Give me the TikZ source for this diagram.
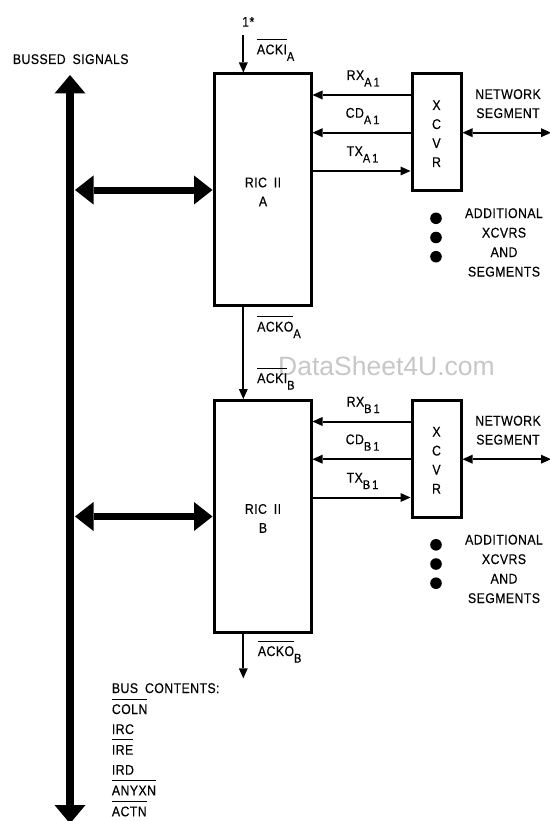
\documentclass[tikz,border=0pt]{standalone}
\usepackage{fontspec}
\setmainfont[FakeStretch=0.88,LetterSpace=3,FakeBold=0.35,WordSpace=1.8]{Liberation Sans}
\newfontfamily\wmfont{Liberation Sans}
\usetikzlibrary{arrows.meta}
\newcommand\ovl[1]{\leavevmode\setbox0\hbox{#1}\rlap{\raisebox{14.5pt}{\rule{\wd0}{0.9pt}}}\box0}
\newcommand\sbs[1]{\raisebox{-6.5pt}{\fontsize{12.5}{13}\selectfont #1}}
\begin{document}
\begin{tikzpicture}[x=1pt,y=-1pt,
  txt/.style={inner sep=0pt, font=\fontsize{14}{16}\selectfont},
  boxs/.style={draw, line width=3pt, inner sep=0pt},
  sig/.style={line width=2pt, -{Triangle[length=10pt,width=9pt,line width=0pt]}},
  sigboth/.style={line width=2pt, {Triangle[length=10pt,width=9pt,line width=0pt]}-{Triangle[length=10pt,width=9pt,line width=0pt]}},
  bidir/.style={line width=7pt, {Triangle[length=18.5pt,width=29pt,line width=0pt]}-{Triangle[length=18.5pt,width=29pt,line width=0pt]}},
  bus/.style={line width=8.5pt, {Triangle[length=18.5pt,width=31pt,line width=0pt]}-{Triangle[length=18.5pt,width=31pt,line width=0pt]}}]
\path[use as bounding box] (0,0) rectangle (549,821);

% watermark
\node[inner sep=0pt, anchor=base, text=black!22, font=\wmfont\fontsize{26.5}{28}\selectfont] (wm) at (386.5,375) {DataSheet4U.com};

% bus
\coordinate (bt) at (70,75);
\coordinate (bb) at (70,823.5);
\draw[bus] (bt) -- (bb);
\node[txt,anchor=base west] (bs) at (12.7,64) {BUSSED SIGNALS};

\foreach \blk/\off in {A/0,B/326.5}{
  \node[boxs, minimum width=97pt, minimum height=231.7pt] (r\blk) at (262.5,{189.85+\off}) {};
  \node[boxs, minimum width=49pt, minimum height=116.7pt] (x\blk) at (436.5,{132.35+\off}) {};
  \node[txt,anchor=base] (rt\blk) at (263,{187.3+\off}) {RIC II};
  \node[txt,anchor=base] (rl\blk) at (263,{206.3+\off}) {\blk};
  \foreach \ltr [count=\i from 0] in {X,C,V,R}
    \node[txt,anchor=base] (xl\blk\i) at (436.5,{110+19*\i+\off}) {\ltr};
  \coordinate (rxy\blk) at (0,{95+\off});
  \coordinate (cdy\blk) at (0,{132.7+\off});
  \coordinate (txy\blk) at (0,{171+\off});
  \draw[sig] (x\blk.west |- rxy\blk) -- (r\blk.east |- rxy\blk);
  \draw[sig] (x\blk.west |- cdy\blk) -- (r\blk.east |- cdy\blk);
  \draw[sig] (r\blk.east |- txy\blk) -- (x\blk.west |- txy\blk);
  \node[txt,anchor=base west] (rxl\blk) at (346.5,{80+\off}) {RX\sbs{\blk\kern2pt 1}};
  \node[txt,anchor=base west] (cdl\blk) at (345.5,{117.7+\off}) {CD\sbs{\blk\kern2pt 1}};
  \node[txt,anchor=base west] (txl\blk) at (346.5,{156+\off}) {TX\sbs{\blk\kern2pt 1}};
  \coordinate (ne\blk) at (551,{132.7+\off});
  \draw[sigboth] (x\blk.east |- ne\blk) -- (ne\blk);
  \node[txt,anchor=base] (nw\blk) at (508,{99+\off}) {NETWORK};
  \node[txt,anchor=base] (sg\blk) at (508,{118+\off}) {SEGMENT};
  \coordinate (bl\blk) at (75,{190+\off});
  \draw[bidir] (bl\blk) -- (r\blk.west |- bl\blk);
  \foreach \yy in {218.3,237.5,256.7}
    \fill (436,{\yy+\off}) circle (5.8pt);
  \node[txt,anchor=base] (ad\blk) at (504,{218+\off}) {ADDITIONAL};
  \node[txt,anchor=base] (xc\blk) at (504,{237.5+\off}) {XCVRS};
  \node[txt,anchor=base] (an\blk) at (504,{257+\off}) {AND};
  \node[txt,anchor=base] (sm\blk) at (504,{276.5+\off}) {SEGMENTS};
}

% acknowledge chain
\coordinate (ai) at (243.3,35);
\coordinate (ao) at (243.3,678.3);
\draw[sig] (ai) -- (ai |- rA.north);
\draw[sig] (rA.south -| ai) -- (rB.north -| ai);
\draw[sig] (rB.south -| ai) -- (ao);
\node[txt,anchor=base west] (one) at (242,26.7) {1*};
\node[txt,anchor=base west] (akia) at (256.7,54.3) {\ovl{ACKI}\sbs{A}};
\node[txt,anchor=base west] (akoa) at (257,331.5) {\ovl{ACKO}\sbs{A}};
\node[txt,anchor=base west] (akib) at (257,383) {\ovl{ACKI}\sbs{B}};
\node[txt,anchor=base west] (akob) at (257.7,656) {\ovl{ACKO}\sbs{B}};

% bus contents
\node[txt,anchor=base west] (bc) at (111.7,693) {BUS CONTENTS:};
\node[txt,anchor=base west] (c1) at (111.7,714) {\ovl{COLN}};
\node[txt,anchor=base west] (c2) at (111.7,734) {IRC};
\node[txt,anchor=base west] (c3) at (111.7,754.7) {\ovl{IRE}};
\node[txt,anchor=base west] (c4) at (111.7,774.7) {IRD};
\node[txt,anchor=base west] (c5) at (111.7,795.3) {\ovl{ANYXN}};
\node[txt,anchor=base west] (c6) at (111.7,816.3) {\ovl{ACTN}};
\end{tikzpicture}
\end{document}
